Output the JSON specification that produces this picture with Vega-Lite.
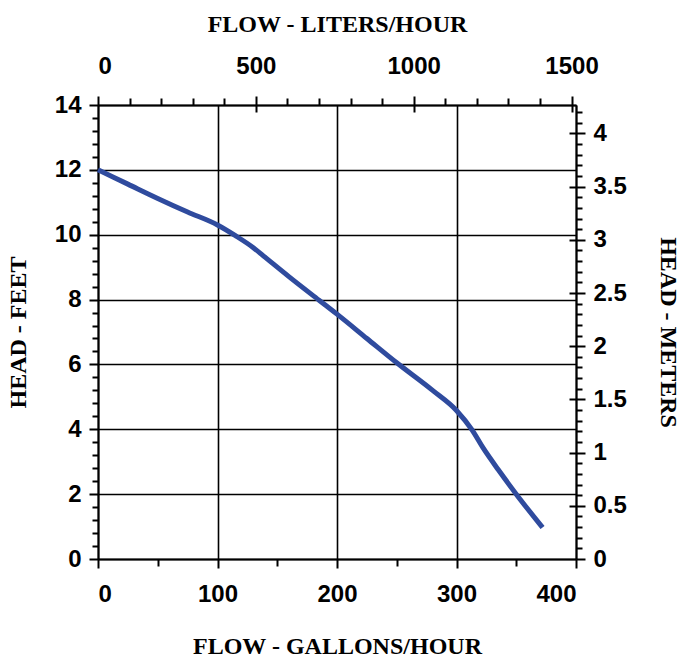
{
  "$schema": "https://vega.github.io/schema/vega-lite/v6.json",
  "width": 478,
  "height": 454,
  "autosize": "none",
  "padding": {"left": 98, "top": 105, "right": 107, "bottom": 104},
  "background": "white",
  "config": {
    "view": {"stroke": null},
    "axis": {
      "domainColor": "black", "domainWidth": 2,
      "tickColor": "black", "tickWidth": 2,
      "labelColor": "black", "titleColor": "black",
      "labelFont": "Liberation Sans", "labelFontWeight": "bold", "labelFontSize": 24,
      "titleFont": "Liberation Serif", "titleFontWeight": "bold", "titleFontSize": 24,
      "gridColor": "black", "gridWidth": 1.6, "gridOpacity": 1
    }
  },
  "datasets": {
    "curve": [
      {"gal": 0, "ft": 12.0},
      {"gal": 25, "ft": 11.56},
      {"gal": 50, "ft": 11.12},
      {"gal": 75, "ft": 10.7},
      {"gal": 100, "ft": 10.3},
      {"gal": 115, "ft": 9.97},
      {"gal": 130, "ft": 9.6},
      {"gal": 140, "ft": 9.3},
      {"gal": 160, "ft": 8.7},
      {"gal": 185, "ft": 7.98},
      {"gal": 200, "ft": 7.55},
      {"gal": 225, "ft": 6.8},
      {"gal": 250, "ft": 6.05},
      {"gal": 280, "ft": 5.2},
      {"gal": 300, "ft": 4.58},
      {"gal": 313, "ft": 3.98},
      {"gal": 322, "ft": 3.44},
      {"gal": 335, "ft": 2.75},
      {"gal": 350, "ft": 2.0},
      {"gal": 372, "ft": 0.97}
    ],
    "metric": [
      {"liters": 0, "meters": 0},
      {"liters": 1514.16, "meters": 4.2672}
    ]
  },
  "layer": [
    {
      "data": {"name": "curve"},
      "mark": {"type": "line", "color": "#2f4b9e", "strokeWidth": 5, "interpolate": "monotone"},
      "encoding": {
        "x": {"field": "gal", "type": "quantitative",
              "scale": {"domain": [0, 400], "nice": false},
              "axis": {"orient": "bottom", "values": [0, 100, 200, 300, 400], "grid": true,
                       "tickSize": 9, "labelPadding": 14, "title": "FLOW - GALLONS/HOUR", "titlePadding": 28}},
        "y": {"field": "ft", "type": "quantitative",
              "scale": {"domain": [0, 14], "nice": false},
              "axis": {"orient": "left", "values": [0, 2, 4, 6, 8, 10, 12, 14], "grid": true,
                       "tickSize": 9, "labelPadding": 8, "title": "HEAD - FEET", "titlePadding": 24}}
      }
    },
    {
      "data": {"name": "curve"},
      "mark": {"type": "point", "opacity": 0},
      "encoding": {
        "x": {"field": "gal", "type": "quantitative",
              "scale": {"domain": [0, 400], "nice": false},
              "axis": {"orient": "bottom", "values": [50, 150, 250, 350], "grid": false, "domain": false,
                       "labels": false, "tickSize": 7, "title": null}},
        "y": {"field": "ft", "type": "quantitative",
              "scale": {"domain": [0, 14], "nice": false},
              "axis": {"orient": "left", "values": [0.4, 0.8, 1.2, 1.6, 2.4, 2.8, 3.2, 3.6, 4.4, 4.8, 5.2, 5.6, 6.4, 6.8, 7.2, 7.6, 8.4, 8.8, 9.2, 9.6, 10.4, 10.8, 11.2, 11.6, 12.4, 12.8, 13.2, 13.6],
                       "grid": false, "domain": false, "labels": false, "tickSize": 6, "title": null}}
      }
    },
    {
      "data": {"name": "metric"},
      "mark": {"type": "point", "opacity": 0},
      "encoding": {
        "x": {"field": "liters", "type": "quantitative",
              "scale": {"domain": [0, 1514.16], "nice": false, "zero": true},
              "axis": {"orient": "top", "values": [0, 500, 1000, 1500], "format": "d", "grid": false,
                       "tickSize": 9, "labelPadding": 18, "title": "FLOW - LITERS/HOUR", "titlePadding": 18}},
        "y": {"field": "meters", "type": "quantitative",
              "scale": {"domain": [0, 4.2672], "nice": false, "zero": true},
              "axis": {"orient": "right", "values": [0, 0.5, 1, 1.5, 2, 2.5, 3, 3.5, 4], "format": ".1~f", "grid": false,
                       "tickSize": 9, "labelPadding": 8, "title": "HEAD - METERS", "titlePadding": 29}}
      }
    },
    {
      "data": {"name": "metric"},
      "mark": {"type": "point", "opacity": 0},
      "encoding": {
        "x": {"field": "liters", "type": "quantitative",
              "scale": {"domain": [0, 1514.16], "nice": false, "zero": true},
              "axis": {"orient": "top", "values": [500, 1000, 1500], "grid": false, "domain": false,
                       "labels": false, "tickSize": -7, "title": null}},
        "y": {"field": "meters", "type": "quantitative",
              "scale": {"domain": [0, 4.2672], "nice": false, "zero": true},
              "axis": {"orient": "right", "values": [0.5, 1, 1.5, 2, 2.5, 3, 3.5, 4], "grid": false, "domain": false,
                       "labels": false, "tickSize": -7, "title": null}}
      }
    },
    {
      "data": {"name": "metric"},
      "mark": {"type": "point", "opacity": 0},
      "encoding": {
        "x": {"field": "liters", "type": "quantitative",
              "scale": {"domain": [0, 1514.16], "nice": false, "zero": true},
              "axis": {"orient": "top", "values": [100, 200, 300, 400, 600, 700, 800, 900, 1100, 1200, 1300, 1400],
                       "grid": false, "domain": false, "labels": false, "tickSize": 7, "title": null}},
        "y": {"field": "meters", "type": "quantitative",
              "scale": {"domain": [0, 4.2672], "nice": false, "zero": true},
              "axis": {"orient": "right", "values": [0.1, 0.2, 0.3, 0.4, 0.6, 0.7, 0.8, 0.9, 1.1, 1.2, 1.3, 1.4, 1.6, 1.7, 1.8, 1.9, 2.1, 2.2, 2.3, 2.4, 2.6, 2.7, 2.8, 2.9, 3.1, 3.2, 3.3, 3.4, 3.6, 3.7, 3.8, 3.9, 4.1, 4.2],
                       "grid": false, "domain": false, "labels": false, "tickSize": 6, "title": null}}
      }
    }
  ],
  "resolve": {
    "scale": {"x": "independent", "y": "independent"},
    "axis": {"x": "independent", "y": "independent"}
  }
}
